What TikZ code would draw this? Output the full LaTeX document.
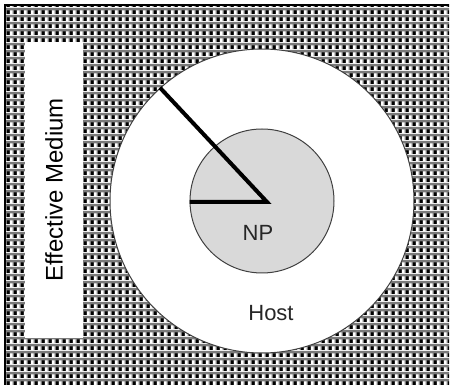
\documentclass[tikz,border=0pt]{standalone}
\usepackage{fontspec}
\setmainfont{Liberation Sans}
\usetikzlibrary{patterns}
\definecolor{npgray}{HTML}{D9D9D9}
\definecolor{rimgray}{HTML}{404040}
\definecolor{dotgray}{HTML}{7A7A7A}
\pgfdeclarepatterninherentlycolored{effmed}{\pgfpointorigin}{\pgfpoint{7pt}{6.5pt}}{\pgfpoint{7pt}{6.5pt}}{%
  \pgfsetfillcolor{dotgray}%
  \pgfpathrectangle{\pgfpointorigin}{\pgfpoint{7pt}{6.5pt}}\pgfusepath{fill}%
  \pgfsetfillcolor{black}%
  \pgfpathrectangle{\pgfpoint{0pt}{0pt}}{\pgfpoint{3pt}{4pt}}\pgfusepath{fill}%
  \pgfsetfillcolor{white}%
  \pgfpathrectangle{\pgfpoint{3.5pt}{0pt}}{\pgfpoint{3pt}{4pt}}\pgfusepath{fill}%
}
\begin{document}
\begin{tikzpicture}[x=1pt,y=-1pt]
        \useasboundingbox (0,0) rectangle (451,385);
        \fill[pattern=effmed] (5,5) rectangle (449,385);
        \draw[line width=2pt] (5,386) -- (5,5) -- (449,5);

        \node[fill=white, rotate=90, minimum width=296pt, minimum height=58pt, inner sep=0pt, font=\fontsize{24}{28}\selectfont] (em) at (54,190) {Effective Medium};
        \node[draw=rimgray, fill=white, circle, line width=1pt, minimum size=304pt, inner sep=0pt] (host) at (262,201) {};
        \node[draw=rimgray, fill=npgray, circle, line width=1pt, minimum size=144pt, inner sep=0pt] (np) at (262,201) {};
        \coordinate (o) at (267,202);

        \node[font=\fontsize{22}{26}\selectfont, text=black!85] (nplabel) at (258,233) {NP};
        \node[font=\fontsize{22}{26}\selectfont, text=black!85] (hostlabel) at (271,313) {Host};

        \path[draw,line width=4pt] (np.west |- o) -- (o) -- (host.132);
    \end{tikzpicture}
\end{document}
